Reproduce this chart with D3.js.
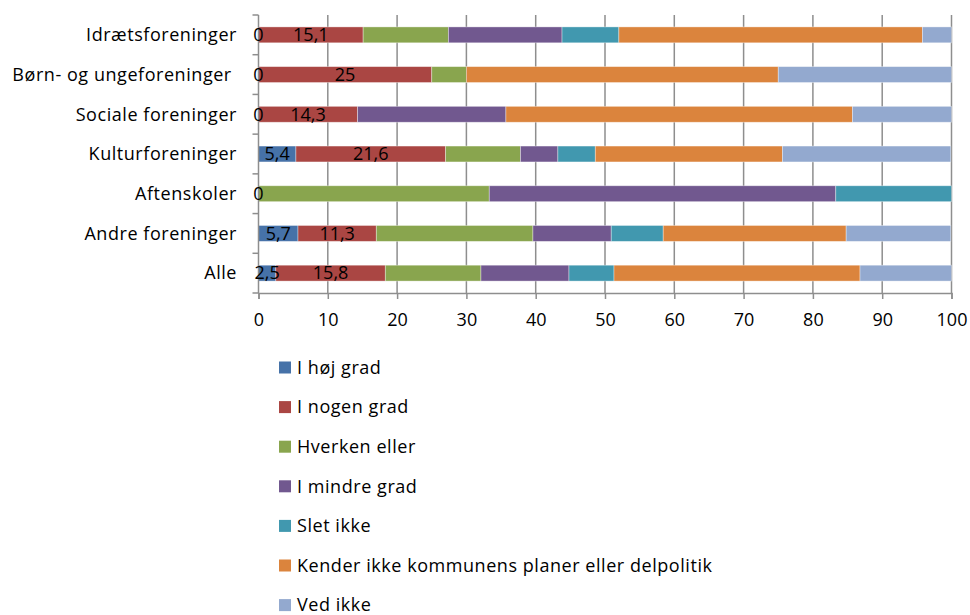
<!DOCTYPE html>
<html>
<head>
<meta charset="utf-8">
<script src="https://cdn.jsdelivr.net/npm/d3@7"></script>
<style>
  body { margin: 0; background: #fff; }
  text { font-family: "Open Sans", sans-serif; fill: #000; }
</style>
</head>
<body>
<div id="chart"></div>
<script>
// categories, top to bottom
const categories = ["Idrætsforeninger", "Børn- og ungeforeninger ", "Sociale foreninger",
  "Kulturforeninger", "Aftenskoler", "Andre foreninger", "Alle"];

const seriesNames = ["I høj grad", "I nogen grad", "Hverken eller", "I mindre grad",
  "Slet ikke", "Kender ikke kommunens planer eller delpolitik", "Ved ikke"];

// one array per series, in category order
const iHojGrad     = [0, 0, 0, 5.4, 0, 5.7, 2.5];
const iNogenGrad   = [15.1, 25, 14.3, 21.6, 0, 11.3, 15.8];
const hverkenEller = [12.3, 5, 0, 10.8, 33.3, 22.6, 13.8];
const iMindreGrad  = [16.4, 0, 21.4, 5.4, 50, 11.3, 12.7];
const sletIkke     = [8.2, 0, 0, 5.4, 16.7, 7.5, 6.5];
const kenderIkke   = [43.8, 45, 50, 27.0, 0, 26.4, 35.5];
const vedIkke      = [4.2, 25, 14.3, 24.3, 0, 15.1, 13.2];

const xTicks = [0, 10, 20, 30, 40, 50, 60, 70, 80, 90, 100];

const colors = ["#4672a8", "#aa4643", "#89a54e", "#71588f", "#4198af", "#db843d", "#93a9cf"];

const seriesValues = [iHojGrad, iNogenGrad, hverkenEller, iMindreGrad, sletIkke, kenderIkke, vedIkke];

// table for d3.stack
const table = categories.map((c, i) => {
  const row = { cat: c };
  seriesNames.forEach((s, j) => row[s] = seriesValues[j][i]);
  return row;
});

const width = 970, height = 615;
const fontSize = "18px";
const spacing = "0.55px";
const svg = d3.select("#chart").append("svg")
  .attr("width", width)
  .attr("height", height);

const x = d3.scaleLinear().domain([0, 100]).range([258.5, 951.5]);
const y = d3.scaleBand().domain(categories).range([15, 293]).paddingInner(0.6).paddingOuter(0.3);
const yBand = d3.scaleBand().domain(categories).range([15, 293]);

// gridlines
svg.append("g")
  .selectAll("line")
  .data(xTicks.slice(1))
  .join("line")
  .attr("x1", d => x(d)).attr("x2", d => x(d))
  .attr("y1", 15).attr("y2", 293)
  .attr("stroke", "#8e8e8e")
  .attr("stroke-width", 1.5);

const stack = d3.stack().keys(seriesNames);
const stacked = stack(table);

svg.append("g")
  .selectAll("g")
  .data(stacked)
  .join("g")
  .attr("fill", (d, i) => colors[i])
  .selectAll("rect")
  .data(d => d)
  .join("rect")
  .attr("x", d => x(d[0]))
  .attr("width", d => x(d[1]) - x(d[0]))
  .attr("y", d => y(d.data.cat))
  .attr("height", y.bandwidth())
  .attr("stroke", "rgba(255,255,255,0.45)")
  .attr("stroke-width", 0.8);

// y axis
const yAxis = svg.append("g");
yAxis.append("line")
  .attr("x1", x(0)).attr("x2", x(0))
  .attr("y1", 15).attr("y2", 293)
  .attr("stroke", "#8e8e8e").attr("stroke-width", 1.5);
yAxis.selectAll("line.tk")
  .data(categories.map(c => yBand(c)).concat([293]))
  .join("line")
  .attr("class", "tk")
  .attr("x1", x(0) - 6).attr("x2", x(0))
  .attr("y1", d => d).attr("y2", d => d)
  .attr("stroke", "#8e8e8e").attr("stroke-width", 1.5);
yAxis.selectAll("text")
  .data(categories)
  .join("text")
  .attr("x", 237)
  .attr("y", d => yBand(d) + yBand.bandwidth() / 2)
  .attr("dy", "0.35em")
  .attr("text-anchor", "end")
  .style("font-size", fontSize)
  .style("letter-spacing", spacing)
  .style("white-space", "pre")
  .text(d => d);

// x axis
const xAxis = svg.append("g").attr("transform", "translate(0,293)")
  .call(d3.axisBottom(x).tickValues(xTicks).tickSize(6).tickPadding(14).tickFormat(d3.format("d")));
xAxis.select(".domain").attr("stroke", "#8e8e8e").attr("stroke-width", 1.5);
xAxis.selectAll(".tick line").attr("stroke", "#8e8e8e").attr("stroke-width", 1.5);
xAxis.selectAll(".tick text")
  .style("font-size", fontSize)
  .style("font-family", "'Open Sans', sans-serif")
  .attr("fill", "#000");

// data labels for the first two series
const fmt = v => String(v).replace(".", ",");
[0, 1].forEach(k => {
  svg.append("g")
    .selectAll("text")
    .data(stacked[k].filter(d => !(k === 1 && d.data[seriesNames[1]] === 0)))
    .join("text")
    .attr("x", d => x((d[0] + d[1]) / 2))
    .attr("y", d => y(d.data.cat) + y.bandwidth() / 2)
    .attr("dy", "0.35em")
    .attr("text-anchor", "middle")
    .style("font-size", fontSize)
    .text(d => fmt(d.data[seriesNames[k]]));
});

// legend
const legend = svg.append("g")
  .selectAll("g")
  .data(seriesNames)
  .join("g")
  .attr("transform", (d, i) => `translate(279,${367.5 + i * 39.6})`);
legend.append("rect")
  .attr("x", 0).attr("y", -6)
  .attr("width", 12).attr("height", 12)
  .attr("fill", (d, i) => colors[i]);
legend.append("text")
  .attr("x", 18).attr("y", 0)
  .attr("dy", "0.35em")
  .style("font-size", fontSize)
  .style("letter-spacing", spacing)
  .text(d => d);
</script>
</body>
</html>
